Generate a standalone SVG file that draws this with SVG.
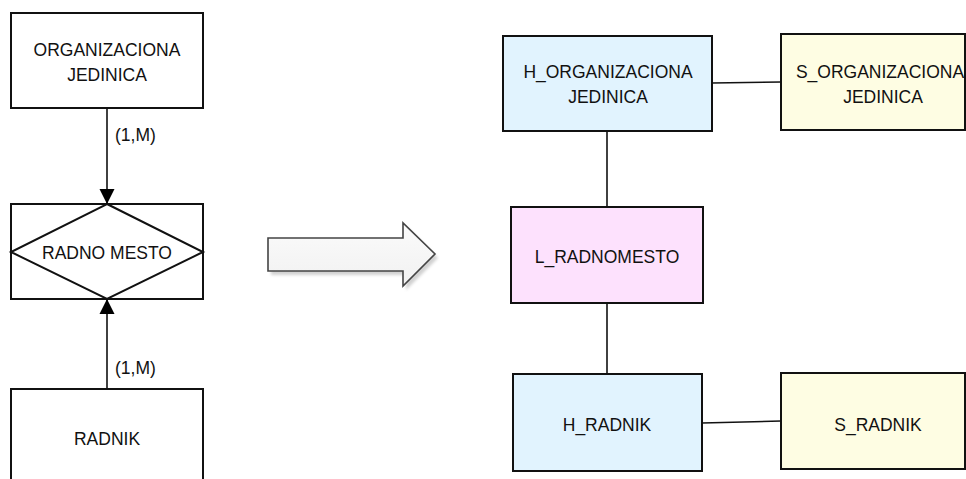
<svg xmlns="http://www.w3.org/2000/svg" width="966" height="479" viewBox="0 0 966 479">
  <defs>
    <style>
      .box { stroke: #111; stroke-width: 2; }
      .plain { fill: #ffffff; }
      .hub { fill: #e1f3fe; }
      .link { fill: #fde1fd; }
      .sat { fill: #fefde3; }
      .edge { stroke: #111; stroke-width: 1.6; fill: none; }
      text { font-family: "Liberation Sans", Arial, sans-serif; font-size: 17.5px; fill: #111; text-anchor: middle; dominant-baseline: central; }
      .lbl { text-anchor: start; }
    </style>
    <marker id="arrow" viewBox="0 0 10 10" refX="10" refY="5" markerWidth="15" markerHeight="17" markerUnits="userSpaceOnUse" orient="auto">
      <path d="M0,0 L10,5 L0,10 Z" fill="#000"/>
    </marker>
    <linearGradient id="bigArrowFill" x1="0" y1="0" x2="0" y2="1">
      <stop offset="0" stop-color="#fbfbfb"/>
      <stop offset="1" stop-color="#f1f1f1"/>
    </linearGradient>
    <filter id="soft" x="-10%" y="-10%" width="130%" height="140%">
      <feGaussianBlur stdDeviation="1.5"/>
    </filter>
  </defs>

  <!-- ER side -->
  <g id="er-organizaciona">
    <rect class="box plain" x="11" y="13" width="192" height="95"/>
    <text x="107" y="50">ORGANIZACIONA</text>
    <text x="107" y="75">JEDINICA</text>
  </g>
  <g id="er-radno-mesto">
    <rect class="box plain" x="11" y="204" width="192" height="95"/>
    <polygon class="box plain" points="107,204 203,252 107,299 11,252" stroke-width="1.6"/>
    <text x="107" y="253">RADNO MESTO</text>
  </g>
  <g id="er-radnik">
    <rect class="box plain" x="11" y="389" width="192" height="100"/>
    <text x="107" y="439">RADNIK</text>
  </g>

  <!-- transformation arrow -->
  <g id="transform-arrow">
    <polygon points="268,238 403,238 403,223 435,254 403,286 403,271 268,271" fill="#9a9a9a" opacity="0.45" filter="url(#soft)" transform="translate(3,4)"/>
    <polygon points="268,238 403,238 403,223 435,254 403,286 403,271 268,271" fill="url(#bigArrowFill)" stroke="#444" stroke-width="1.6" stroke-linejoin="miter"/>
  </g>

  <!-- Data Vault side -->
  <g id="h-organizaciona">
    <rect class="box hub" x="503" y="36" width="209" height="95"/>
    <text x="608" y="72">H_ORGANIZACIONA</text>
    <text x="608" y="97">JEDINICA</text>
  </g>
  <g id="s-organizaciona">
    <rect class="box sat" x="781" y="34" width="184" height="96"/>
    <text x="880" y="72">S_ORGANIZACIONA</text>
    <text x="883" y="97">JEDINICA</text>
  </g>
  <g id="l-radnomesto">
    <rect class="box link" x="511" y="207" width="192" height="96"/>
    <text x="607" y="257">L_RADNOMESTO</text>
  </g>
  <g id="h-radnik">
    <rect class="box hub" x="513" y="374" width="189" height="97"/>
    <text x="607" y="425">H_RADNIK</text>
  </g>
  <g id="s-radnik">
    <rect class="box sat" x="781" y="373" width="184" height="96"/>
    <text x="878" y="425">S_RADNIK</text>
  </g>

  <!-- connectors -->
  <g id="connectors">
    <line class="edge" x1="107" y1="108" x2="107" y2="204" marker-end="url(#arrow)"/>
    <line class="edge" x1="107" y1="389" x2="107" y2="299" marker-end="url(#arrow)"/>
    <text class="lbl" x="115" y="135">(1,M)</text>
    <text class="lbl" x="115" y="368">(1,M)</text>
    <line class="edge" x1="712" y1="83" x2="781" y2="82"/>
    <line class="edge" x1="607" y1="131" x2="607" y2="207"/>
    <line class="edge" x1="607" y1="303" x2="607" y2="374"/>
    <line class="edge" x1="702" y1="423" x2="781" y2="421"/>
  </g>
</svg>
